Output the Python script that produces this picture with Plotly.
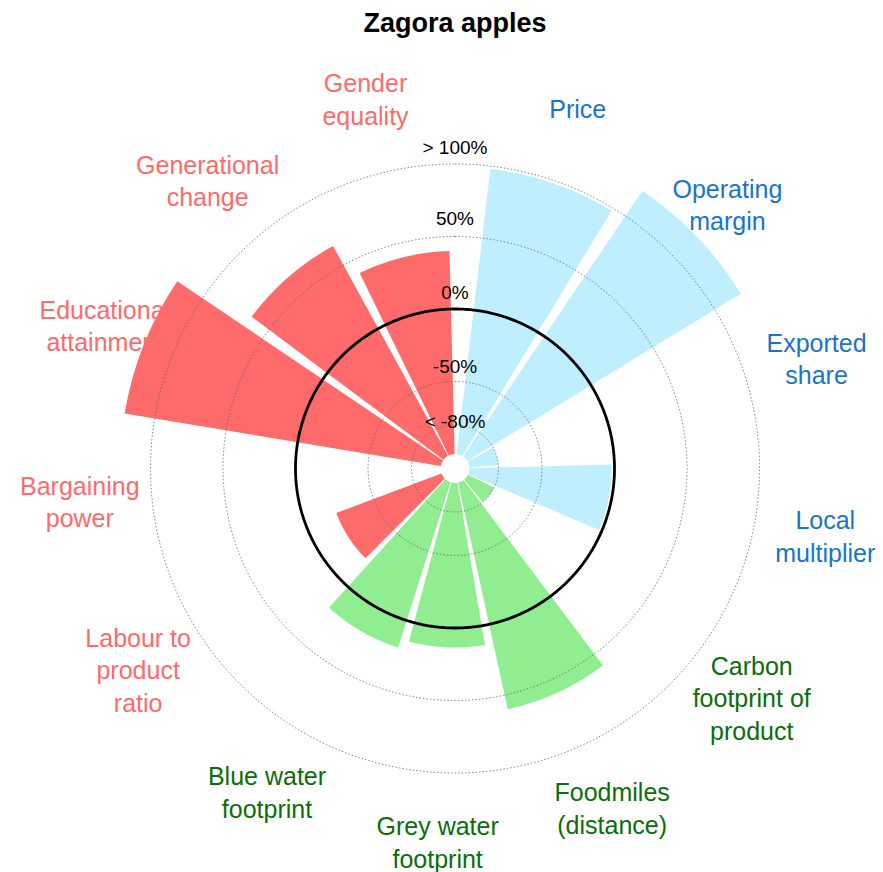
import numpy as np
import plotly.graph_objects as go

# ---------------- data ----------------
chart_title = "Zagora apples"
categories = [
    "Price", "Operating margin", "Exported share", "Local multiplier",
    "Carbon footprint of product", "Foodmiles (distance)", "Grey water footprint",
    "Blue water footprint", "Labour to product ratio", "Bargaining power",
    "Educational attainment", "Generational change", "Gender equality",
]
category_labels = [
    "Price", "Operating<br>margin", "Exported<br>share", "Local<br>multiplier",
    "Carbon<br>footprint of<br>product", "Foodmiles<br>(distance)", "Grey water<br>footprint",
    "Blue water<br>footprint", "Labour to<br>product<br>ratio", "Bargaining<br>power",
    "Educational<br>attainment", "Generational<br>change", "Gender<br>equality",
]
groups = ["Economic"] * 4 + ["Environmental"] * 4 + ["Social"] * 5
# % change (display values; > 100% shown capped, < -80% shown at floor; None = no data)
values = [98, 121, -80, -2, -80, 60, 13.5, 19.5, -22.5, None, 121, 65, 40]
tick_values = [100, 50, 0, -50, -80]
tick_labels = ["> 100%", "50%", "0%", "-50%", "< -80%"]

# ---------------- styles ----------------
bar_colors = {"Economic": "#BFEFFF", "Environmental": "#90EE90", "Social": "#FF6A6A"}
text_colors = {"Economic": "#1874CD", "Environmental": "#0A6E0A", "Social": "#FF6A6A"}
FONT = "Liberation Sans, Arial, sans-serif"
BASE = -100
R_RANGE = [-110, 125]
R_RANGE_LABELS = [-110, 162]
LABEL_R = 150
tick_label_offsets = [10, 11, 10, 9, 1]
PERIOD = 13.2
ROT = 71
PX_PER_UNIT = 1.45

W, H = 883, 872
OFF = 8  # page body margin
cx, cy = 455 - OFF, 468.5 - OFF


def domain_for(rng):
    rad = (rng[1] - rng[0]) * PX_PER_UNIT
    return dict(x=[(cx - rad) / W, (cx + rad) / W],
                y=[(H - (cy + rad)) / H, (H - (cy - rad)) / H])


def polar_layout(categorical, rng):
    ang = dict(visible=False, showgrid=False, showline=False, showticklabels=False,
               ticks="", direction="clockwise")
    if categorical:
        ang.update(type="category", categoryorder="array", categoryarray=categories,
                   period=PERIOD, rotation=ROT)
    else:
        ang.update(type="linear", rotation=90, thetaunit="degrees")
    return dict(
        domain=domain_for(rng),
        bgcolor="rgba(0,0,0,0)",
        bargap=0.1,
        radialaxis=dict(range=rng, visible=False, showgrid=False, showline=False,
                        showticklabels=False, ticks=""),
        angularaxis=ang,
    )


fig = go.Figure()

# category labels (under the bars)
fig.add_trace(go.Scatterpolar(
    r=[LABEL_R] * len(categories), theta=categories, mode="text",
    text=category_labels, cliponaxis=False,
    textfont=dict(family=FONT, size=25, color=[text_colors[g] for g in groups]),
    subplot="polar", hoverinfo="skip", showlegend=False,
))

# bars (categories without data are left empty)
has = [v is not None for v in values]
fig.add_trace(go.Barpolar(
    r=[v - BASE for v, h in zip(values, has) if h],
    theta=[c for c, h in zip(categories, has) if h],
    base=BASE,
    width=0.9,
    marker=dict(color=[bar_colors[g] for g, h in zip(groups, has) if h], line=dict(width=0)),
    subplot="polar2", showlegend=False,
))

# reference circles (above bars)
circle_theta = np.linspace(0, 360, 721)
for t in tick_values:
    fig.add_trace(go.Scatterpolar(
        r=[t] * len(circle_theta), theta=circle_theta, mode="lines",
        line=dict(color="#666666", width=0.8, dash="1.5px,2px"),
        subplot="polar3", hoverinfo="skip", showlegend=False,
    ))
fig.add_trace(go.Scatterpolar(
    r=[0] * len(circle_theta), theta=circle_theta, mode="lines",
    line=dict(color="black", width=2.8),
    subplot="polar3", hoverinfo="skip", showlegend=False,
))
fig.add_trace(go.Scatterpolar(
    r=[t + o for t, o in zip(tick_values, tick_label_offsets)], theta=[0] * len(tick_values),
    mode="text", text=tick_labels, cliponaxis=False,
    textfont=dict(family=FONT, size=19, color="black"),
    subplot="polar3", hoverinfo="skip", showlegend=False,
))

fig.update_layout(
    width=W, height=H,
    margin=dict(l=0, r=0, t=0, b=0),
    paper_bgcolor="white", plot_bgcolor="white",
    showlegend=False,
    title=dict(text="<b>" + chart_title + "</b>", x=(455 - OFF) / W, xanchor="center",
               y=1 - (23 - OFF) / H, yanchor="middle", yref="container",
               font=dict(family=FONT, size=27, color="black")),
    polar=polar_layout(True, R_RANGE_LABELS),
    polar2=polar_layout(True, R_RANGE),
    polar3=polar_layout(False, R_RANGE),
)

fig.write_html("out.html")
